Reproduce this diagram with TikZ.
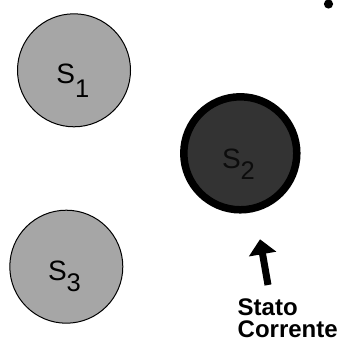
\documentclass[tikz,border=0pt]{standalone}
\usepackage{fontspec}
\setmainfont{Liberation Sans}
\usetikzlibrary{arrows.meta}
\definecolor{stategray}{RGB}{166,166,166}
\definecolor{curfill}{RGB}{51,51,51}
\definecolor{curtext}{RGB}{12,12,12}
\tikzset{
  statecirc/.style={circle, draw=black, line width=1pt, fill=stategray, minimum size=113pt, inner sep=0pt},
  curcirc/.style={circle, draw=black, line width=7.5pt, fill=curfill, minimum size=113pt, inner sep=0pt},
  statelbl/.style={anchor=base west, inner sep=0pt, font=\fontsize{28}{30}\selectfont},
  caption/.style={anchor=base west, inner sep=0pt, font=\fontsize{24}{22}\selectfont\bfseries},
  pointer/.style={line width=7pt, draw=black, -{Triangle[width=27pt,length=15pt]}}
}
\newcommand{\stsub}[2]{S\raisebox{-#1pt}{\fontsize{25.5}{28}\selectfont #2}}
\begin{document}
\begin{tikzpicture}[x=1pt,y=-1pt]
\useasboundingbox (0,0) rectangle (340,345);
\node[statecirc] (s1) at (74,70.3) {};
\node[statecirc] (s3) at (66.3,266.7) {};
\node[curcirc] (s2) at (240.3,153.3) {};
\node[statelbl] (s1lbl) at (56.2,83) {\stsub{14.5}{1}};
\node[statelbl] (s3lbl) at (47.8,280.7) {\stsub{10.7}{3}};
\node[statelbl, text=curtext] (s2lbl) at (221.8,168) {\stsub{11.7}{2}};
\node[caption] (cap1) at (237.5,315) {Stato};
\node[caption] (cap2) at (237.5,337) {Corrente};
\coordinate (tail) at (268,285);
\coordinate (tip) at (260,239.3);
\draw[pointer] (tail) -- (tip);
\fill[black] (328.5,4) circle (4.6pt);
\end{tikzpicture}
\end{document}
